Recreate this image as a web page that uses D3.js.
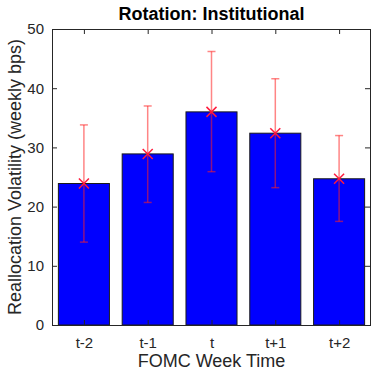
<!DOCTYPE html>
<html><head><meta charset="utf-8">
<script src="https://cdn.jsdelivr.net/npm/d3@7"></script>
<style>body{margin:0;background:#fff}svg{display:block}text{font-family:"Liberation Sans",Arial,sans-serif}</style>
</head><body><svg id="c" width="371" height="370"></svg>
<script>
const categories = ["t-2","t-1","t","t+1","t+2"];
const means = [23.9, 28.9, 36.0, 32.4, 24.7];
const upper = [33.8, 37.0, 46.2, 41.6, 32.0];
const lower = [14.0, 20.7, 25.9, 23.2, 17.5];
const yTicks = [0,10,20,30,40,50];
const title = "Rotation: Institutional";
const xLabel = "FOMC Week Time";
const yLabel = "Reallocation Volatility (weekly bps)";

const svg = d3.select("#c");
const m = {l:52, r:371, t:29, b:325};
const x = d3.scaleLinear().domain([0.5, 5.5]).range([m.l, m.r]);
const y = d3.scaleLinear().domain([0, 50]).range([m.b, m.t]);
const step = x(2) - x(1);
const bw = step * 0.8;
const axisColor = "#262626";

// bars
svg.append("g").selectAll("rect").data(means).join("rect")
  .attr("x", (d,i) => x(i+1) - bw/2)
  .attr("y", d => y(d))
  .attr("width", bw)
  .attr("height", d => y(0) - y(d))
  .attr("fill", "#0000ff")
  .attr("stroke", "#1a1a1a")
  .attr("stroke-width", 1);

// error bars
const eg = svg.append("g").attr("stroke", "#ff2020").attr("stroke-opacity", 0.55).attr("stroke-width", 1.5);
categories.forEach((c,i) => {
  const cx = x(i+1);
  eg.append("line").attr("x1", cx).attr("x2", cx).attr("y1", y(lower[i])).attr("y2", y(upper[i]));
  eg.append("line").attr("x1", cx-4).attr("x2", cx+4).attr("y1", y(lower[i])).attr("y2", y(lower[i]));
  eg.append("line").attr("x1", cx-4).attr("x2", cx+4).attr("y1", y(upper[i])).attr("y2", y(upper[i]));
});
// markers
const mg = svg.append("g").attr("stroke", "#ff1a3c").attr("stroke-width", 1.5);
means.forEach((d,i) => {
  const cx = x(i+1), cy = y(d), s = 5;
  mg.append("line").attr("x1", cx-s).attr("x2", cx+s).attr("y1", cy-s).attr("y2", cy+s);
  mg.append("line").attr("x1", cx-s).attr("x2", cx+s).attr("y1", cy+s).attr("y2", cy-s);
});

// axes box
const xAxis = d3.axisBottom(x).tickValues(d3.range(1, categories.length+1))
  .tickFormat(d => categories[d-1]).tickSizeInner(-5).tickSizeOuter(0).tickPadding(12);
const gx = svg.append("g").attr("transform", `translate(0,${m.b})`).call(xAxis);
const gxt = svg.append("g").attr("transform", `translate(0,${m.t})`)
  .call(d3.axisTop(x).tickValues(d3.range(1, categories.length+1)).tickFormat("").tickSizeInner(-5).tickSizeOuter(0));
const yAxis = d3.axisLeft(y).tickValues(yTicks).tickSizeInner(-5).tickSizeOuter(0).tickPadding(8);
const gy = svg.append("g").attr("transform", `translate(${m.l},0)`).call(yAxis);
const gyr = svg.append("g").attr("transform", `translate(${m.r-1},0)`)
  .call(d3.axisRight(y).tickValues(yTicks).tickFormat("").tickSizeInner(-5).tickSizeOuter(0));
[gx,gxt,gy,gyr].forEach(g => {
  g.select(".domain").attr("stroke", axisColor);
  g.selectAll(".tick line").attr("stroke", axisColor);
  g.selectAll("text").attr("fill", axisColor).style("font-size","15px").style("font-family","Liberation Sans, Arial, sans-serif");
});

svg.append("text").attr("x", (m.l+m.r)/2).attr("y", 20).attr("text-anchor","middle")
  .style("font-size","18px").style("font-weight","bold").attr("fill","#000").text(title);
svg.append("text").attr("x", (m.l+m.r)/2).attr("y", 367).attr("text-anchor","middle")
  .style("font-size","18px").attr("fill",axisColor).text(xLabel);
svg.append("text").attr("transform", `translate(21,${(m.t+m.b)/2}) rotate(-90)`).attr("text-anchor","middle")
  .style("font-size","18px").attr("fill",axisColor).text(yLabel);
</script></body></html>
